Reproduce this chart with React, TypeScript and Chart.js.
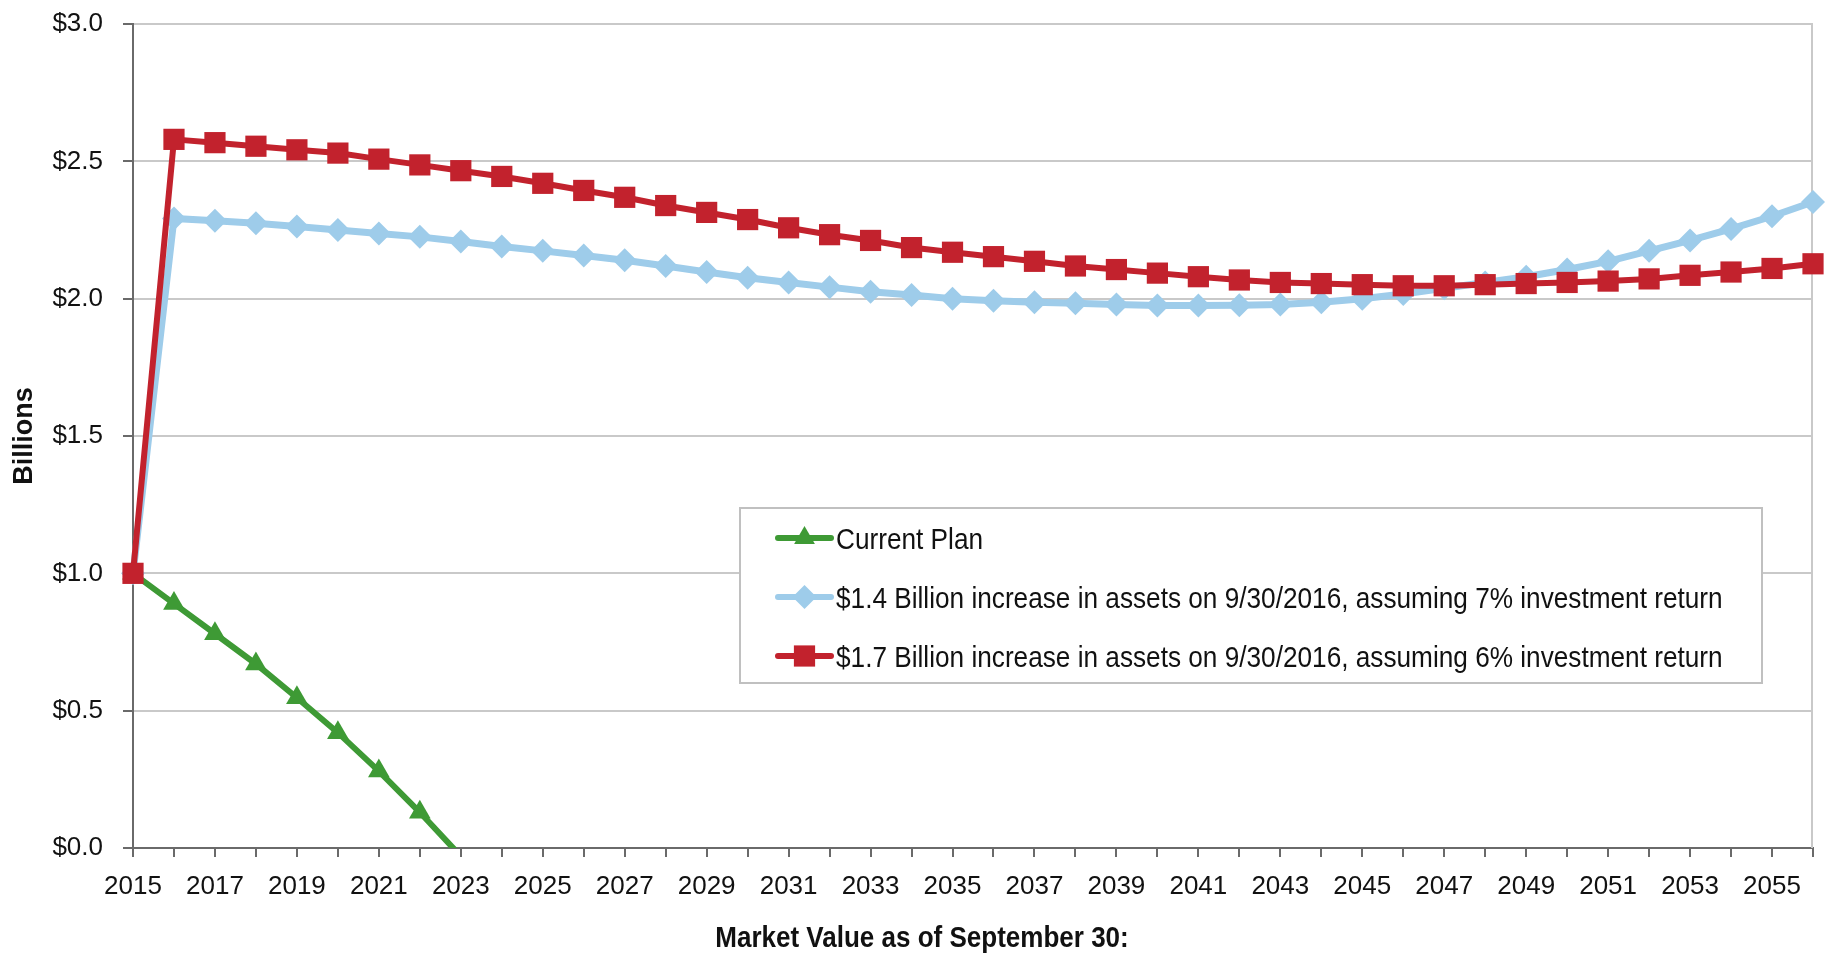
import React, { useEffect, useRef } from 'react';
import { Chart, registerables } from 'chart.js';

Chart.register(...registerables);

const years = [
  '2015', '2016', '2017', '2018', '2019', '2020', '2021', '2022', '2023', '2024',
  '2025', '2026', '2027', '2028', '2029', '2030', '2031', '2032', '2033', '2034',
  '2035', '2036', '2037', '2038', '2039', '2040', '2041', '2042', '2043', '2044',
  '2045', '2046', '2047', '2048', '2049', '2050', '2051', '2052', '2053', '2054',
  '2055', '2056',
];

const xTickLabels = [
  '2015', '2017', '2019', '2021', '2023', '2025', '2027', '2029', '2031', '2033',
  '2035', '2037', '2039', '2041', '2043', '2045', '2047', '2049', '2051', '2053', '2055',
];

// Billions of dollars
const currentPlan = [1.0, 0.89, 0.78, 0.67, 0.547, 0.42, 0.28, 0.13, -0.03];

const plan14 = [
  1.0, 2.292, 2.284, 2.275, 2.263, 2.25, 2.237, 2.225, 2.208, 2.19,
  2.174, 2.157, 2.14, 2.119, 2.097, 2.076, 2.059, 2.042, 2.025, 2.013,
  2.0, 1.992, 1.987, 1.983, 1.979, 1.975, 1.975, 1.976, 1.979, 1.987,
  2.0, 2.017, 2.038, 2.059, 2.08, 2.106, 2.136, 2.174, 2.212, 2.254,
  2.3, 2.352,
];

const plan17 = [
  1.0, 2.58, 2.568, 2.555, 2.542, 2.53, 2.508, 2.487, 2.466, 2.445,
  2.42, 2.394, 2.369, 2.339, 2.314, 2.288, 2.258, 2.233, 2.212, 2.186,
  2.169, 2.153, 2.136, 2.119, 2.106, 2.093, 2.08, 2.068, 2.059, 2.055,
  2.051, 2.047, 2.047, 2.051, 2.055, 2.059, 2.064, 2.072, 2.085, 2.097,
  2.11, 2.127,
];

const seriesLabels = [
  'Current Plan',
  '$1.4 Billion increase in assets on 9/30/2016, assuming 7% investment return',
  '$1.7 Billion increase in assets on 9/30/2016, assuming 6% investment return',
];

const xTitle = 'Market Value as of September 30:';
const yTitle = 'Billions';

const GREEN = '#3E9A35';
const BLUE = '#9ECCEA';
const RED = '#C2222D';
const AXIS = '#6a6a6a';
const GRID = '#c9c9c9';
const SANS = '"Liberation Sans", Arial, sans-serif';

function drawMarker(ctx: CanvasRenderingContext2D, style: string, x: number, y: number, r: number) {
  ctx.beginPath();
  if (style === 'triangle') {
    for (let i = 0; i < 3; i++) {
      const a = (i * 2 * Math.PI) / 3;
      const px = x + Math.sin(a) * r;
      const py = y - Math.cos(a) * r;
      if (i === 0) ctx.moveTo(px, py);
      else ctx.lineTo(px, py);
    }
  } else if (style === 'rectRot') {
    ctx.moveTo(x - r, y);
    ctx.lineTo(x, y - r);
    ctx.lineTo(x + r, y);
    ctx.lineTo(x, y + r);
  } else {
    const s = r * Math.SQRT1_2;
    ctx.rect(x - s, y - s, 2 * s, 2 * s);
  }
  ctx.closePath();
  ctx.fill();
}

function condensedText(ctx: CanvasRenderingContext2D, text: string, x: number, y: number, sx: number) {
  ctx.save();
  ctx.translate(x, y);
  ctx.scale(sx, 1);
  ctx.fillText(text, 0, 0);
  ctx.restore();
}

const customDecor = {
  id: 'customDecor',
  beforeDatasetsDraw(chart: any) {
    const { ctx, chartArea } = chart;
    ctx.save();
    ctx.strokeStyle = GRID;
    ctx.lineWidth = 2;
    ctx.beginPath();
    ctx.moveTo(chartArea.right - 1, chartArea.top);
    ctx.lineTo(chartArea.right - 1, chartArea.bottom);
    ctx.stroke();
    ctx.restore();
  },
  afterDraw(chart: any) {
    const { ctx } = chart;
    ctx.save();
    // legend box
    const bx = 740, by = 508, bw = 1022, bh = 175;
    ctx.fillStyle = '#ffffff';
    ctx.fillRect(bx, by, bw, bh);
    ctx.strokeStyle = '#c0c0c0';
    ctx.lineWidth = 2;
    ctx.strokeRect(bx, by, bw, bh);
    const rowY = [538, 597, 656];
    chart.data.datasets.forEach((ds: any, i: number) => {
      const y = rowY[i];
      ctx.strokeStyle = ds.borderColor;
      ctx.lineWidth = 6;
      ctx.lineCap = 'round';
      ctx.beginPath();
      ctx.moveTo(778, y);
      ctx.lineTo(831, y);
      ctx.stroke();
      ctx.fillStyle = ds.backgroundColor;
      drawMarker(ctx, ds.pointStyle, 804.5, y, ds.legendRadius);
      ctx.fillStyle = '#111';
      ctx.font = `30px ${SANS}`;
      ctx.textAlign = 'left';
      ctx.textBaseline = 'alphabetic';
      condensedText(ctx, ds.label, 836, y + 10.5, 0.873);
    });
    // x-axis title
    ctx.fillStyle = '#111';
    ctx.font = `bold 30px ${SANS}`;
    ctx.textAlign = 'left';
    ctx.textBaseline = 'alphabetic';
    const sx = 0.867;
    const w = ctx.measureText(xTitle).width * sx;
    condensedText(ctx, xTitle, 922 - w / 2, 947, sx);
    ctx.restore();
  },
};

export default function App() {
  const canvasRef = useRef<HTMLCanvasElement | null>(null);

  useEffect(() => {
    document.body.style.margin = '0';
    const canvas = canvasRef.current;
    if (!canvas) return;
    const chart = new Chart(canvas, {
      type: 'line',
      data: {
        labels: years,
        datasets: [
          {
            label: seriesLabels[0],
            data: currentPlan,
            borderColor: GREEN,
            backgroundColor: GREEN,
            borderWidth: 6,
            pointStyle: 'triangle',
            pointRadius: (c: any) => (c.raw !== null && c.raw < 0 ? 0 : 12.5),
            pointBorderWidth: 0,
            order: 2,
            legendRadius: 12,
          } as any,
          {
            label: seriesLabels[1],
            data: plan14,
            borderColor: BLUE,
            backgroundColor: BLUE,
            borderWidth: 7,
            pointStyle: 'rectRot',
            pointRadius: 12,
            pointBorderWidth: 0,
            order: 1,
            legendRadius: 12,
          } as any,
          {
            label: seriesLabels[2],
            data: plan17,
            borderColor: RED,
            backgroundColor: RED,
            borderWidth: 6,
            pointStyle: 'rect',
            pointRadius: 15,
            pointBorderWidth: 0,
            order: 0,
            legendRadius: 15,
          } as any,
        ],
      },
      options: {
        responsive: false,
        animation: false,
        events: [],
        layout: { padding: { top: 24, right: 0, left: 0, bottom: 0 } },
        plugins: {
          legend: { display: false },
          tooltip: { enabled: false },
        },
        elements: { line: { tension: 0 } },
        scales: {
          x: {
            type: 'category',
            offset: false,
            afterFit: (scale: any) => {
              scale.height = 108;
            },
            grid: {
              display: true,
              drawOnChartArea: false,
              drawTicks: true,
              tickLength: 9,
              tickColor: AXIS,
              lineWidth: 2,
            },
            border: { display: true, color: AXIS, width: 2 },
            ticks: {
              autoSkip: false,
              maxRotation: 0,
              minRotation: 0,
              padding: 14,
              color: '#111',
              font: { family: SANS, size: 26 },
              callback: (_v: any, idx: number) => (xTickLabels.includes(years[idx]) ? years[idx] : ''),
            },
          },
          y: {
            min: 0,
            max: 3,
            afterFit: (scale: any) => {
              scale.width = 133;
            },
            grid: {
              color: GRID,
              lineWidth: 2,
              tickLength: 10,
              tickColor: AXIS,
            },
            border: { display: true, color: AXIS, width: 2 },
            ticks: {
              stepSize: 0.5,
              padding: 20,
              color: '#111',
              font: { family: SANS, size: 26, lineHeight: 0.3 },
              callback: (v: any) => '$' + Number(v).toFixed(1),
            },
            title: {
              display: true,
              text: yTitle,
              color: '#111',
              font: { family: SANS, size: 27, weight: 'bold' },
              padding: { top: 8, bottom: 0 },
            },
          },
        },
      } as any,
      plugins: [customDecor],
    });
    return () => chart.destroy();
  }, []);

  return (
    <div style={{ position: 'absolute', left: 0, top: 0, width: 1828, height: 956, background: '#fff' }}>
      <canvas ref={canvasRef} width={1828} height={956} style={{ width: 1828, height: 956, display: 'block' }} />
    </div>
  );
}
